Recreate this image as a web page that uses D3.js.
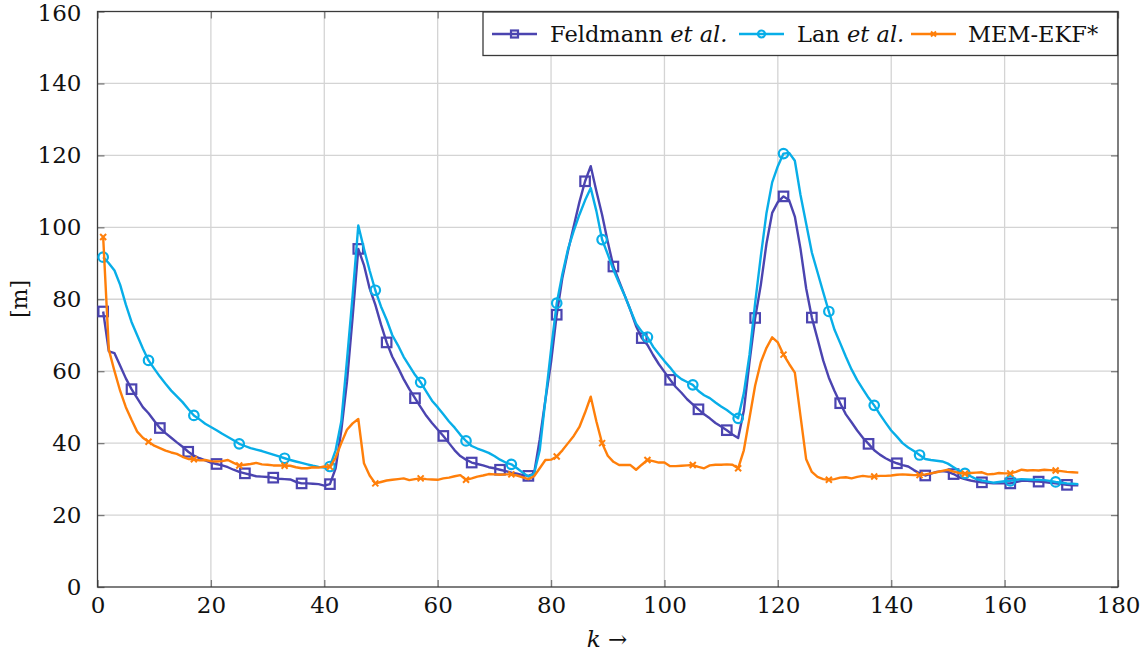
<!DOCTYPE html>
<html>
<head>
<meta charset="utf-8">
<script src="https://cdn.jsdelivr.net/npm/d3@7/dist/d3.min.js"></script>
<style>
  html, body { margin: 0; padding: 0; background: #fff; }
  svg { display: block; }
  svg text { font-family: "DejaVu Serif"; fill: #111; }
</style>
</head>
<body>
<svg id="chart" width="1146" height="657"></svg>
<script>
// Time steps k = 1 … 173
const steps = d3.range(1, 174);

// Extent error [m] per time step
const feldmann = [
  76.6, 65.5, 65.0, 61.5, 58.0, 55.0, 52.5, 50.0, 48.3, 46.2,
  44.2, 42.8, 41.5, 40.2, 39.0, 37.6, 36.5, 35.8, 35.2, 34.6,
  34.2, 33.8, 33.3, 32.6, 32.0, 31.6, 31.2, 30.8, 30.7, 30.6,
  30.4, 30.1, 30.0, 29.9, 29.2, 28.8, 28.8, 28.7, 28.6, 28.2,
  28.6, 33.0, 43.5, 57.0, 75.0, 94.0, 89.5, 83.0, 78.5, 73.0,
  68.0, 64.0, 61.0, 57.8, 55.0, 52.5, 50.0, 47.6, 45.6, 43.8,
  42.0, 40.0, 38.0, 36.4, 35.4, 34.6, 34.2, 33.8, 33.3, 33.0,
  32.6, 32.2, 31.8, 31.5, 31.1, 30.9, 31.5, 41.0, 52.0, 62.5,
  75.7, 86.0, 93.5, 100.3, 107.0, 112.8, 117.0, 110.0, 103.5, 96.0,
  89.1, 85.0, 81.0, 77.0, 72.5, 69.2, 67.3, 64.5, 62.0, 59.8,
  57.6, 55.6, 54.0, 52.2, 50.8, 49.4, 48.0, 46.9, 45.6, 44.6,
  43.6, 42.4, 41.4, 49.0, 62.5, 74.8, 84.0, 95.5, 104.0, 107.0,
  108.6, 107.5, 103.0, 94.0, 83.0, 74.9, 69.0, 63.0, 58.2, 54.5,
  51.1, 48.0, 45.8, 43.5, 41.5, 39.8, 38.0, 36.8, 35.8, 35.0,
  34.4, 33.9, 33.5, 32.5, 31.6, 31.0, 31.5, 32.0, 32.2, 32.0,
  31.4, 30.5, 30.0, 29.6, 29.3, 29.1, 29.0, 28.8, 28.8, 28.8,
  28.8, 29.2, 29.5, 29.5, 29.4, 29.3, 29.2, 29.0, 28.8, 28.6,
  28.4, 28.3, 28.3
];

const lan = [
  91.7, 90.0, 88.0, 84.0, 78.5, 73.7, 70.0, 66.3, 63.0, 60.7,
  58.5, 56.5, 54.6, 53.0, 51.4, 49.5, 47.7, 46.6, 45.4, 44.5,
  43.6, 42.6, 41.7, 40.8, 39.8, 39.2, 38.6, 38.2, 37.8, 37.3,
  36.8, 36.3, 35.8, 35.3, 34.9, 34.5, 34.1, 33.7, 33.4, 33.2,
  33.5, 38.0, 46.0, 63.0, 81.0, 100.5, 94.0, 88.0, 82.5, 78.0,
  74.3, 70.0, 67.2, 64.0, 61.5, 59.0, 56.9, 54.3, 51.8, 50.0,
  48.0, 46.0, 44.3, 42.3, 40.6, 39.2, 38.5, 37.9, 37.3, 36.4,
  35.4, 34.6, 34.1, 33.0, 31.8, 30.7, 31.5, 38.0, 52.0, 66.0,
  78.9, 87.0, 94.0, 99.0, 103.5, 107.5, 110.9, 104.5, 96.6, 92.5,
  88.2, 84.5, 81.0, 77.0, 73.2, 71.0, 69.5, 66.8, 64.8, 62.8,
  61.0, 59.0, 57.8, 57.0, 56.2, 54.5, 53.3, 52.5, 51.3, 50.2,
  49.2, 48.0, 46.9, 53.9, 64.5, 79.0, 92.0, 104.0, 112.5, 117.0,
  120.5, 120.7, 118.5, 109.0, 101.0, 93.0, 87.5, 82.0, 76.6, 71.5,
  67.8, 64.0, 60.5, 57.5, 55.0, 52.6, 50.5, 48.0, 45.7, 43.5,
  41.8, 40.0, 38.8, 37.8, 36.7, 35.6, 35.3, 35.1, 34.9, 34.3,
  33.3, 32.3, 31.6, 30.8, 30.0, 29.6, 29.3, 29.0, 29.2, 29.4,
  29.5, 29.8, 30.0, 29.9, 29.8, 29.8, 29.7, 29.5, 29.2, 29.0,
  28.8, 28.7, 28.6
];

const memEkf = [
  97.3, 66.0, 60.0, 54.5, 50.0, 46.5, 43.2, 41.5, 40.4, 39.3,
  38.6, 37.9, 37.4, 37.0, 36.2, 35.6, 35.5, 35.2, 35.3, 35.0,
  34.9, 35.0, 35.3, 34.5, 33.8, 34.0, 34.2, 34.5, 34.1, 34.0,
  33.8, 33.8, 33.7, 33.7, 33.3, 33.0, 33.0, 33.3, 33.2, 33.5,
  33.4, 36.0, 40.0, 43.7, 45.5, 46.7, 34.4, 31.0, 28.8, 29.2,
  29.6, 29.8, 30.0, 30.2, 29.7, 30.0, 30.2, 30.0, 29.9, 29.8,
  30.2, 30.4, 30.8, 31.1, 29.8, 30.2, 30.7, 31.0, 31.4, 31.3,
  31.2, 31.3, 31.3, 31.0, 30.5, 30.0, 30.8, 33.0, 35.3, 35.4,
  36.3, 38.0, 40.0, 42.0, 44.5, 48.5, 52.9, 46.0, 40.0, 36.5,
  34.8, 33.9, 33.9, 33.9, 32.6, 34.0, 35.3, 35.0, 34.6, 34.6,
  33.6, 33.6, 33.7, 33.8, 33.9, 33.4, 33.0, 33.8, 34.0, 34.0,
  34.1, 34.0, 33.0, 38.0, 47.0, 56.0, 62.5, 66.5, 69.4, 68.0,
  64.6, 62.0, 59.6, 47.5, 35.5, 32.0, 30.6, 30.0, 29.8, 30.0,
  30.4, 30.5, 30.2, 30.6, 30.9, 30.7, 30.7, 30.9, 30.9, 31.0,
  31.2, 31.3, 31.2, 31.1, 31.1, 31.3, 31.6, 31.9, 32.3, 32.6,
  32.1, 31.7, 31.5, 31.7, 31.8, 31.9, 31.3, 31.4, 31.7, 31.6,
  31.6, 32.0, 32.6, 32.4, 32.5, 32.4, 32.6, 32.5, 32.4, 32.2,
  32.0, 31.9, 31.8
];

const xTicks = [0, 20, 40, 60, 80, 100, 120, 140, 160, 180];
const yTicks = [0, 20, 40, 60, 80, 100, 120, 140, 160];
const seriesNames = ["Feldmann", "Lan", "MEM-EKF*"];

const svg = d3.select("#chart");
const plot = { left: 97.5, right: 1118, top: 11.5, bottom: 587 };

const x = d3.scaleLinear().domain([0, 180]).range([plot.left, plot.right]);
const y = d3.scaleLinear().domain([0, 160]).range([plot.bottom, plot.top]);

// Grid
const grid = svg.append("g").attr("stroke", "#d4d4d4").attr("stroke-width", 1.3);
grid.selectAll(".gx").data(xTicks.slice(1, -1)).join("line")
  .attr("x1", d => x(d)).attr("x2", d => x(d))
  .attr("y1", plot.top).attr("y2", plot.bottom);
grid.selectAll(".gy").data(yTicks.slice(1, -1)).join("line")
  .attr("y1", d => y(d)).attr("y2", d => y(d))
  .attr("x1", plot.left).attr("x2", plot.right);

// Axes with inward ticks, mirrored on the opposite sides
function styleAxis(g) {
  g.attr("font-family", null).attr("font-size", null);
  g.select(".domain").remove();
  g.selectAll(".tick line").attr("stroke", "#7a7a7a").attr("stroke-width", 1.3);
  g.selectAll(".tick text").attr("font-size", 23).attr("fill", "#111");
}
svg.append("g").attr("transform", `translate(0,${plot.bottom})`)
  .call(d3.axisBottom(x).tickValues(xTicks).tickSizeInner(-7).tickSizeOuter(0).tickPadding(10).tickFormat(d3.format("d")))
  .call(styleAxis);
svg.append("g").attr("transform", `translate(0,${plot.top})`)
  .call(d3.axisTop(x).tickValues(xTicks).tickSizeInner(-7).tickSizeOuter(0).tickFormat(""))
  .call(styleAxis);
const yAxis = svg.append("g").attr("transform", `translate(${plot.left},0)`)
  .call(d3.axisLeft(y).tickValues(yTicks).tickSizeInner(-7).tickSizeOuter(0).tickPadding(16).tickFormat(d3.format("d")))
  .call(styleAxis);
yAxis.selectAll(".tick text").filter(d => d === 160).attr("dy", "0.38em");
svg.append("g").attr("transform", `translate(${plot.right},0)`)
  .call(d3.axisRight(y).tickValues(yTicks).tickSizeInner(-7).tickSizeOuter(0).tickFormat(""))
  .call(styleAxis);

// Frame
svg.append("rect")
  .attr("x", plot.left).attr("y", plot.top)
  .attr("width", plot.right - plot.left).attr("height", plot.bottom - plot.top)
  .attr("fill", "none").attr("stroke", "#3a3a3a").attr("stroke-width", 1.3);

// Marker drawing helpers
const markers = {
  square: (g, cx, cy, s, color) => g.append("rect")
    .attr("x", cx - s / 2).attr("y", cy - s / 2).attr("width", s).attr("height", s)
    .attr("fill", "none").attr("stroke", color).attr("stroke-width", 2.2),
  circle: (g, cx, cy, s, color) => g.append("circle")
    .attr("cx", cx).attr("cy", cy).attr("r", s / 2)
    .attr("fill", "none").attr("stroke", color).attr("stroke-width", 2.2),
  cross: (g, cx, cy, s, color) => g.append("path")
    .attr("d", `M${cx - s / 2},${cy - s / 2}L${cx + s / 2},${cy + s / 2}M${cx - s / 2},${cy + s / 2}L${cx + s / 2},${cy - s / 2}`)
    .attr("fill", "none").attr("stroke", color).attr("stroke-width", 2)
};

const series = [
  { name: seriesNames[0], values: feldmann, color: "#4b44b0", mark: "square", size: 9.5, every: 5 },
  { name: seriesNames[1], values: lan, color: "#08aee8", mark: "circle", size: 9.5, every: 8 },
  { name: seriesNames[2], values: memEkf, color: "#ff7f0a", mark: "cross", size: 6, every: 8 }
];

const line = d3.line().x(d => x(d[0])).y(d => y(d[1]));

series.forEach(s => {
  const pts = steps.map((k, i) => [k, s.values[i]]);
  const g = svg.append("g");
  g.append("path").datum(pts)
    .attr("d", line)
    .attr("fill", "none").attr("stroke", s.color)
    .attr("stroke-width", 2.4).attr("stroke-linejoin", "round");
  pts.filter((p, i) => i % s.every === 0)
    .forEach(p => markers[s.mark](g, x(p[0]), y(p[1]), s.size, s.color));
});

// Legend
const legend = svg.append("g");
legend.append("rect")
  .attr("x", 483).attr("y", 12).attr("width", 634.5).attr("height", 43.5)
  .attr("fill", "#fff").attr("stroke", "#3a3a3a").attr("stroke-width", 1.3);

const legendItems = [
  { s: series[0], x0: 492, tx: 550, label: ["Feldmann ", "et al."] },
  { s: series[1], x0: 739, tx: 797, label: ["Lan ", "et al."] },
  { s: series[2], x0: 911, tx: 968, label: ["MEM-EKF*", ""] }
];
const ly = 34;
legendItems.forEach(it => {
  legend.append("line")
    .attr("x1", it.x0).attr("x2", it.x0 + 45).attr("y1", ly).attr("y2", ly)
    .attr("stroke", it.s.color).attr("stroke-width", 2.4);
  markers[it.s.mark](legend, it.x0 + 22.5, ly, it.s.mark === "cross" ? 5 : 7, it.s.color);
  const t = legend.append("text")
    .attr("x", it.tx).attr("y", 42)
    .attr("font-size", 22.5).attr("fill", "#111");
  t.append("tspan").text(it.label[0]);
  if (it.label[1]) t.append("tspan").attr("font-style", "italic").text(it.label[1]);
});

// Axis labels
const xl = svg.append("text")
  .attr("x", 607).attr("y", 647).attr("text-anchor", "middle")
  .attr("font-size", 23).attr("fill", "#111");
xl.append("tspan").attr("font-style", "italic").text("k");
xl.append("tspan").text(" \u2192");

svg.append("text")
  .attr("transform", "translate(27,299) rotate(-90)")
  .attr("text-anchor", "middle")
  .attr("font-size", 22).attr("fill", "#111")
  .text("[m]");
</script>
</body>
</html>
